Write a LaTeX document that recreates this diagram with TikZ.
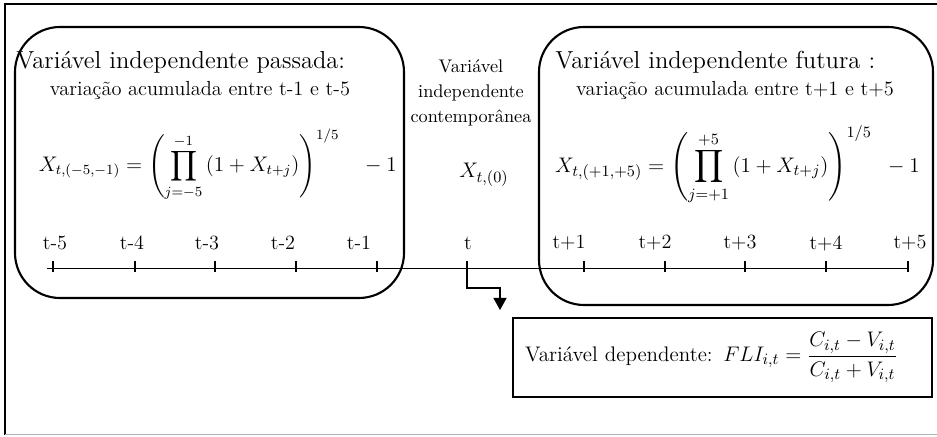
\documentclass[tikz,border=0pt]{standalone}
\usepackage{amsmath}
\usepackage{amssymb}
\usepackage{tikz}
\usetikzlibrary{arrows.meta}

\begin{document}
\begin{tikzpicture}[
  titulo/.style={font=\fontsize{14}{16}\selectfont, inner sep=0pt},
  texto/.style={font=\fontsize{11.6}{13.5}\selectfont, inner sep=0pt},
  meio/.style={font=\fontsize{10.4}{14.4}\selectfont, inner sep=0pt, align=center},
  marca/.style={font=\fontsize{11.5}{13}\selectfont, inner sep=0pt},
  formula/.style={font=\fontsize{13}{15}\selectfont, inner sep=0pt},
  caixa/.style={draw, line width=1.2pt, rounded corners=0.9cm},
  dependente/.style={draw, line width=1.3pt, text width=7.9cm, inner xsep=0.24cm, minimum height=1.58cm, align=left, font=\fontsize{12}{14}\selectfont},
  seta/.style={line width=0.8pt, -{Triangle[width=0.26cm, length=0.24cm]}}
]
\useasboundingbox (0,0) rectangle (18.74,8.72);

% Moldura
\draw[line width=0.8pt] (0.1,0.03) -- (0.1,8.64) -- (18.74,8.64);
\draw[gray!60, line width=0.6pt] (0.1,0.03) -- (18.74,0.03);

% Caixas arredondadas
\draw[caixa] (0.30,2.76) rectangle (8.08,8.18);
\draw[caixa] (10.78,2.62) rectangle (18.66,8.18);

% Passado
\node[titulo, anchor=west] (tit1) at (0.32,7.48) {Variável independente passada:};
\node[texto] (sub1) at (4.0,6.92) {variação acumulada entre t-1 e t-5};
\node[formula, font=\fontsize{12}{14}\selectfont, anchor=east] (form1) at (7.94,5.42) {$\displaystyle X_{t,(-5,-1)} = \left(\prod_{j=-5}^{-1} \left(1+X_{t+j}\right)\right)^{1/5} \quad - 1$};

% Contemporaneo
\node[meio] (contemp) at (9.42,6.86) {Variável\\independente\\contemporânea};
\node[formula] (xzero) at (9.68,5.22) {$X_{t,(0)}$};

% Futuro
\node[titulo, anchor=west] (tit2) at (11.10,7.48) {Variável independente futura :};
\node[texto] (sub2) at (14.70,6.92) {variação acumulada entre t+1 e t+5};
\node[formula, anchor=east] (form2) at (18.40,5.42) {$\displaystyle X_{t,(+1,+5)} = \left(\prod_{j=+1}^{+5} \left(1+X_{t+j}\right)\right)^{1/5} \;\; - 1$};

% Linha do tempo
\draw[line width=0.8pt] (0.94,3.35) -- (18.16,3.35);
\draw[line width=1.6pt] (1.06,3.28) -- (1.06,3.50);
\draw[line width=0.8pt] (2.70,3.28) -- (2.70,3.50);
\draw[line width=0.8pt] (4.30,3.28) -- (4.30,3.50);
\draw[line width=0.8pt] (5.92,3.28) -- (5.92,3.50);
\draw[line width=0.8pt] (7.54,3.28) -- (7.54,3.50);
\draw[line width=0.8pt] (9.34,3.28) -- (9.34,3.50);
\draw[line width=0.8pt] (11.68,3.28) -- (11.68,3.50);
\draw[line width=0.8pt] (13.30,3.28) -- (13.30,3.50);
\draw[line width=0.8pt] (14.90,3.28) -- (14.90,3.50);
\draw[line width=1.6pt] (16.52,3.28) -- (16.52,3.50);
\draw[line width=0.8pt] (18.16,3.28) -- (18.16,3.50);

% Marcas temporais
\node[marca] (lm5) at (1.10,3.86) {t-5};
\node[marca] (lm4) at (2.64,3.86) {t-4};
\node[marca] (lm3) at (4.14,3.86) {t-3};
\node[marca] (lm2) at (5.66,3.86) {t-2};
\node[marca] (lm1) at (7.18,3.86) {t-1};
\node[marca] (l0) at (9.36,3.86) {t};
\node[marca] (lp1) at (11.38,3.86) {t+1};
\node[marca] (lp2) at (13.10,3.86) {t+2};
\node[marca] (lp3) at (14.80,3.86) {t+3};
\node[marca] (lp4) at (16.52,3.86) {t+4};
\node[marca] (lp5) at (18.20,3.86) {t+5};

% Variavel dependente
\node[dependente] (dep) at (14.45,1.57) {\mbox{Variável dependente: {\fontsize{13}{15}\selectfont $FLI_{i,t} = \dfrac{C_{i,t}-V_{i,t}}{C_{i,t}+V_{i,t}}$}}};

\coordinate (tt) at (9.34,3.28);
\coordinate (fim) at (10.0,2.52);
\draw[seta] (tt) -- ++(0,-0.32) -| (fim);
\end{tikzpicture}
\end{document}
